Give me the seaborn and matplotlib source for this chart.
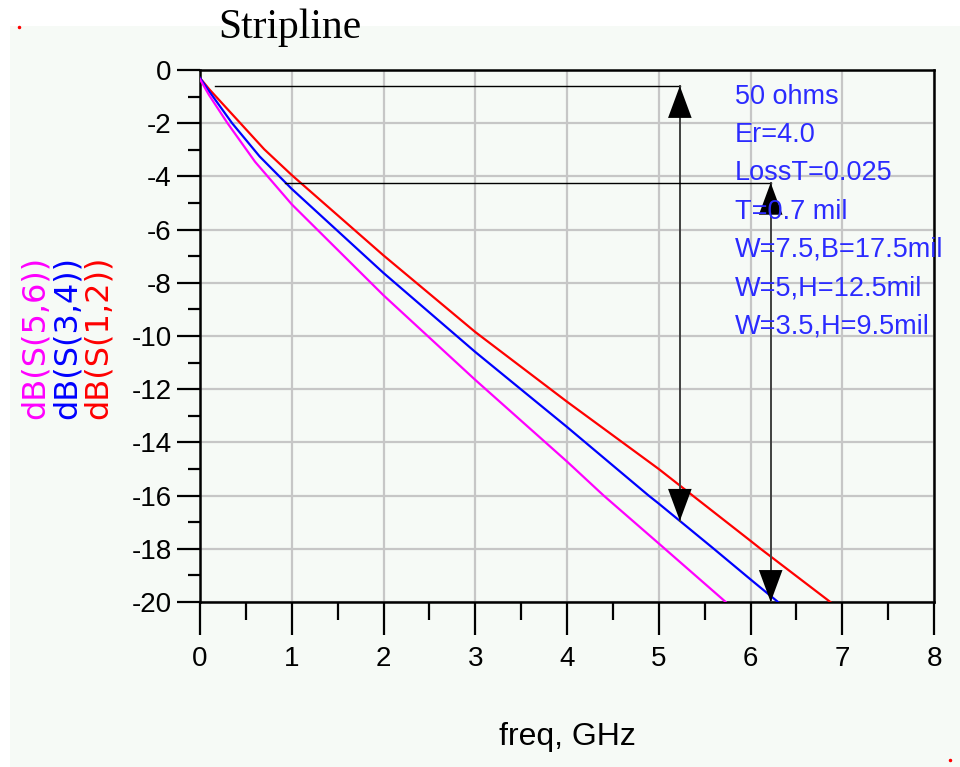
import matplotlib
matplotlib.use("Agg")
import matplotlib.pyplot as plt
import seaborn as sns
import pandas as pd
from matplotlib import font_manager
from matplotlib.patches import Rectangle
from matplotlib.lines import Line2D
from matplotlib.ticker import MultipleLocator

# ---------------- data ----------------
freq_s12 = [0.0, 0.1, 0.44, 0.7, 1.0, 2.0, 3.0, 4.0, 5.0, 5.37, 6.0, 6.11, 6.87]
db_s12 = [-0.3, -0.72, -2.0, -2.98, -3.95, -6.97, -9.85, -12.47, -15.0, -16.0, -17.7, -18.0, -20.0]

freq_s34 = [0.0, 0.1, 0.35, 0.65, 1.0, 2.0, 3.0, 4.0, 4.89, 5.0, 5.6, 6.0, 6.3]
db_s34 = [-0.3, -0.8, -2.0, -3.25, -4.47, -7.63, -10.6, -13.42, -16.0, -16.3, -18.0, -19.15, -20.0]

freq_s56 = [0.0, 0.1, 0.3, 0.6, 1.0, 2.0, 3.0, 4.0, 4.4, 5.0, 5.73]
db_s56 = [-0.35, -0.95, -2.0, -3.45, -5.05, -8.47, -11.65, -14.72, -16.0, -17.8, -20.0]

trace_names = ["dB(S(1,2))", "dB(S(3,4))", "dB(S(5,6))"]
trace_colors = ["#ff0000", "#0000ff", "#ff00ff"]

x_ticks = [0, 1, 2, 3, 4, 5, 6, 7, 8]
y_ticks = [0, -2, -4, -6, -8, -10, -12, -14, -16, -18, -20]

info_lines = ["50 ohms", "Er=4.0", "LossT=0.025", "T=0.7 mil",
              "W=7.5,B=17.5mil", "W=5,H=12.5mil", "W=3.5,H=9.5mil"]
title_text = "Stripline"
x_label = "freq, GHz"

# marker annotations (freq, start freq of horizontal line, top dB, bottom dB)
marker1 = dict(freq=5.23, start=0.16, top=-0.6, bottom=-16.95)
marker2 = dict(freq=6.22, start=0.93, top=-4.24, bottom=-20.0)

# ---------------- fonts ----------------
available = {f.name for f in font_manager.fontManager.ttflist}
narrow = "Liberation Sans Narrow" if "Liberation Sans Narrow" in available else "Liberation Sans"
plt.rcParams["axes.unicode_minus"] = False

df = pd.concat([
    pd.DataFrame({"freq": freq_s12, "dB": db_s12, "trace": trace_names[0]}),
    pd.DataFrame({"freq": freq_s34, "dB": db_s34, "trace": trace_names[1]}),
    pd.DataFrame({"freq": freq_s56, "dB": db_s56, "trace": trace_names[2]}),
], ignore_index=True)

W, H = 960, 767
fig = plt.figure(figsize=(W / 100, H / 100), dpi=100, facecolor="white")
bg = "#f6faf6"
fig.patches.append(Rectangle((10 / W, 0), 1 - 10 / W, 1 - 26 / H, transform=fig.transFigure,
                             facecolor=bg, edgecolor="none", zorder=-10))

L, R, T, B = 200, 934, 70, 602
ax = fig.add_axes([L / W, 1 - B / H, (R - L) / W, (B - T) / H])
ax.set_facecolor(bg)

sns.lineplot(data=df, x="freq", y="dB", hue="trace", hue_order=trace_names,
             palette=dict(zip(trace_names, trace_colors)), legend=False, ax=ax,
             linewidth=1.6, sort=False, estimator=None, zorder=3)

ax.set_xlim(0, 8)
ax.set_ylim(-20, 0)
ax.set_xticks(x_ticks)
ax.set_yticks(y_ticks)
ax.set_xticklabels([str(v) for v in x_ticks])
ax.set_yticklabels([str(v) for v in y_ticks])
ax.xaxis.set_minor_locator(MultipleLocator(0.5))
ax.yaxis.set_minor_locator(MultipleLocator(1))
ax.grid(True, which="major", color="#c6c6c6", linewidth=1.6)
ax.set_axisbelow(True)
ax.set_xlabel("")
ax.set_ylabel("")

tick_fs = 20 if narrow == "Liberation Sans" else 23
ax.tick_params(axis="y", which="major", length=16.5, width=1.6, pad=4, labelsize=tick_fs, colors="black")
ax.tick_params(axis="y", which="minor", length=8.5, width=1.6)
ax.tick_params(axis="x", which="major", length=24, width=1.6, pad=8, labelsize=tick_fs)
ax.tick_params(axis="x", which="minor", length=13, width=1.6)
for lab in ax.get_xticklabels() + ax.get_yticklabels():
    lab.set_fontfamily(narrow)
for s in ax.spines.values():
    s.set_linewidth(1.8)
    s.set_color("black")

# markers
for m in (marker1, marker2):
    ax.plot([m["start"], m["freq"]], [m["top"], m["top"]], color="black", lw=1.0, zorder=4)
    ax.plot([m["freq"], m["freq"]], [m["top"], m["bottom"]], color="#404040", lw=1.4, zorder=4)
    ax.annotate("", xy=(m["freq"], m["bottom"]), xytext=(m["freq"], m["top"]),
                arrowprops=dict(arrowstyle="<|-|>,head_length=23,head_width=8.5",
                                mutation_scale=1, color="black", lw=0,
                                shrinkA=0, shrinkB=0), zorder=5)

# info text
info_fs = 19.5 if narrow == "Liberation Sans" else 23
for i, line in enumerate(info_lines):
    fig.text(735 / W, 1 - (97 + 38.2 * i) / H, line, ha="left", va="center",
             color="#2b2bff", fontsize=info_fs, family=narrow)

# title
fig.text(218 / W, 1 - 38 / H, title_text, ha="left", va="baseline",
         fontsize=30, family="Liberation Serif", color="black")

# x label
fig.text(567 / W, 1 - 737 / H, x_label, ha="center", va="center",
         fontsize=23, family="Liberation Sans", color="black")

# y labels (stacked, coloured)
for xpx, name, col in zip([35, 67, 98], trace_names[::-1], trace_colors[::-1]):
    fig.text(xpx / W, 1 - 337 / H, name, rotation=90, ha="center", va="center",
             color=col, fontsize=23, family="DejaVu Sans")

# little corner dots
fig.add_artist(Line2D([19 / W], [1 - 27 / H], marker="o", ms=1.5, color="red",
                      transform=fig.transFigure))
fig.add_artist(Line2D([950 / W], [1 - 760 / H], marker="o", ms=1.5, color="red",
                      transform=fig.transFigure))

fig.savefig("out.png", dpi=100, facecolor="white")
